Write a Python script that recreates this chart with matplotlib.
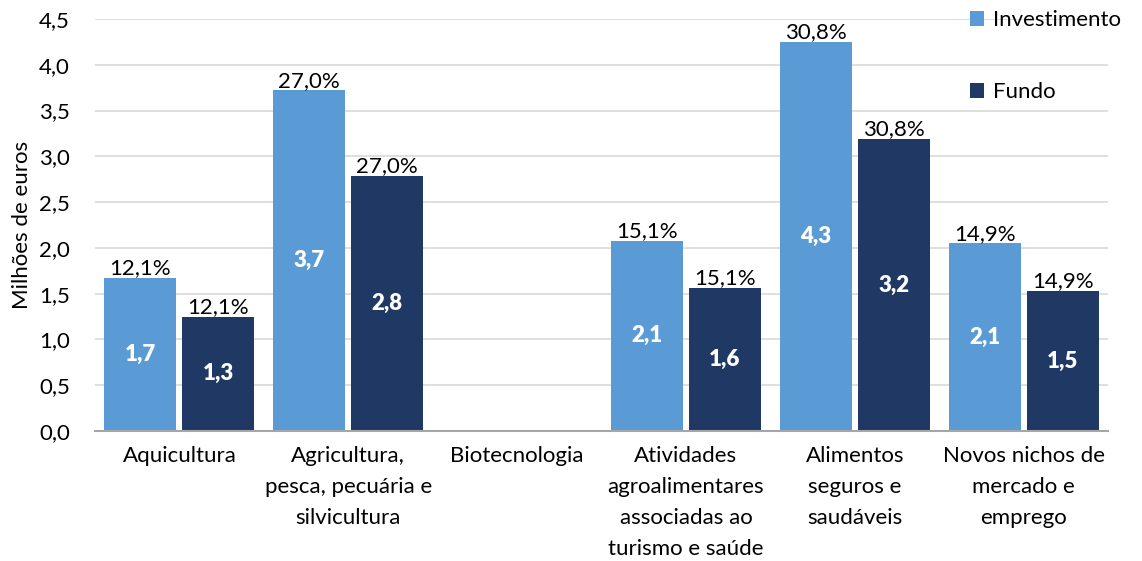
import numpy as np
import matplotlib.pyplot as plt

plt.rcParams['font.family'] = ['Lato', 'DejaVu Sans']

# dados
categorias = ['Aquicultura', 'Agricultura,\npesca, pecuária e\nsilvicultura', 'Biotecnologia',
              'Atividades\nagroalimentares\nassociadas ao\nturismo e saúde',
              'Alimentos\nseguros e\nsaudáveis', 'Novos nichos de\nmercado e\nemprego']
investimento = [1.67, 3.72, 0, 2.08, 4.25, 2.05]
fundo = [1.25, 2.79, 0, 1.56, 3.19, 1.53]
rotulos_inv = ['1,7', '3,7', '', '2,1', '4,3', '2,1']
rotulos_fun = ['1,3', '2,8', '', '1,6', '3,2', '1,5']
percentagens = ['12,1%', '27,0%', '', '15,1%', '30,8%', '14,9%']

cor_inv = '#5B9BD5'
cor_fun = '#203864'

fig = plt.figure(figsize=(11.42, 5.61), dpi=100)
ax = fig.add_axes([95/1142, 1 - 431/561, 1013/1142, 412/561])

x = np.arange(len(categorias))
w = 0.426
d = 0.231
b1 = ax.bar(x - d, investimento, w, color=cor_inv, label='Investimento', zorder=3)
b2 = ax.bar(x + d, fundo, w, color=cor_fun, label='Fundo', zorder=3)

fs = 16
for barras, rot in ((b1, rotulos_inv), (b2, rotulos_fun)):
    for b, r, p in zip(barras, rot, percentagens):
        if not r:
            continue
        h = b.get_height()
        cx = b.get_x() + b.get_width() / 2
        ax.text(cx, h / 2, r, ha='center', va='center', color='white',
                fontsize=fs, fontweight='heavy', zorder=4)
        ax.text(cx, h + 0.04, p, ha='center', va='baseline', color='black',
                fontsize=fs, zorder=4)

ax.set_xlim(-0.5, 5.5)
ax.set_ylim(0, 4.5)
ax.set_yticks(np.arange(0, 4.51, 0.5))
ax.set_yticklabels([f'{v:.1f}'.replace('.', ',') for v in np.arange(0, 4.51, 0.5)])
ax.set_xticks(x)
ax.set_xticklabels(categorias, linespacing=1.68, va='top')
ax.tick_params(axis='y', length=0, pad=18, labelsize=fs)
ax.tick_params(axis='x', length=0, pad=11, labelsize=fs)
ax.grid(axis='y', color='#D9D9D9', lw=1.2, zorder=0)
for s in ['top', 'right', 'left']:
    ax.spines[s].set_visible(False)
ax.spines['bottom'].set_color('#A6A6A6')
ax.spines['bottom'].set_linewidth(1.5)
ax.spines['bottom'].set_zorder(5)

ax.set_ylabel('Milhões de euros', fontsize=fs)
ax.yaxis.set_label_coords(-63/1013, 0.5)

fig.legend(loc='upper left', bbox_to_anchor=(970/1142, 1 - 10/561), frameon=False,
           fontsize=fs, handlelength=0.65, handleheight=0.65, handletextpad=0.4,
           labelspacing=2.35, borderaxespad=0, borderpad=0)

fig.savefig('out.png', dpi=100)
